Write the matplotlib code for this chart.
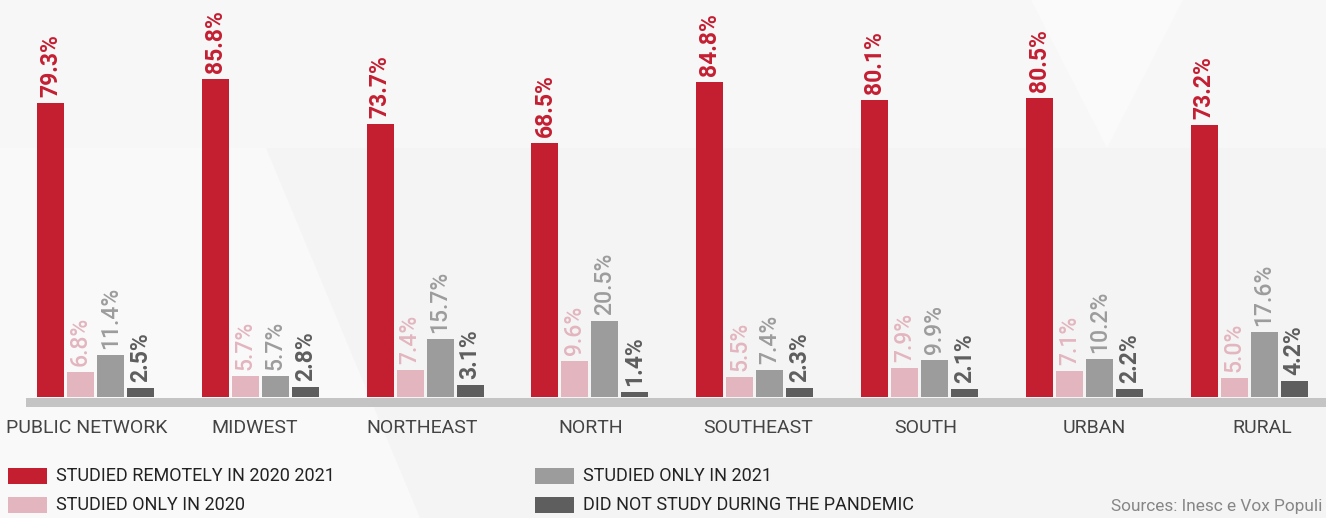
import matplotlib
matplotlib.use("Agg")
import matplotlib.pyplot as plt
from matplotlib.patches import Rectangle, Polygon
from matplotlib import font_manager
import numpy as np

categories = ["PUBLIC NETWORK", "MIDWEST", "NORTHEAST", "NORTH", "SOUTHEAST", "SOUTH", "URBAN", "RURAL"]
remote_2020_2021 = [79.3, 85.8, 73.7, 68.5, 84.8, 80.1, 80.5, 73.2]
only_2020 = [6.8, 5.7, 7.4, 9.6, 5.5, 7.9, 7.1, 5.0]
only_2021 = [11.4, 5.7, 15.7, 20.5, 7.4, 9.9, 10.2, 17.6]
not_studied = [2.5, 2.8, 3.1, 1.4, 2.3, 2.1, 2.2, 4.2]
series_labels = ["STUDIED REMOTELY IN 2020 2021", "STUDIED ONLY IN 2020",
                 "STUDIED ONLY IN 2021", "DID NOT STUDY DURING THE PANDEMIC"]
source_text = "Sources: Inesc e Vox Populi"

colors = ["#c41e31", "#e2b5bf", "#9c9c9c", "#5e5e5e"]
label_weights = ["bold", "medium", "medium", "bold"]

names = {f.name for f in font_manager.fontManager.ttflist}
FONT = ["Roboto", "DejaVu Sans"] if "Roboto" in names else ["DejaVu Sans"]

W, H = 1326, 518
fig = plt.figure(figsize=(W / 100, H / 100), dpi=100)
fig.patch.set_facecolor("#f4f4f4")
renderer = fig.canvas.get_renderer()


def fit_size(text, target_px, weight="normal", base=16.0):
    t = fig.text(0, 0, text, fontsize=base, family=FONT, fontweight=weight)
    w = t.get_window_extent(renderer=renderer).width
    t.remove()
    return base * target_px / w


def fx(px):
    return px / W


def fy(py):
    return 1 - py / H


# subtle background shapes
for pts, c in [
    ([(0, 0), (W, 0), (W, 148), (0, 148)], "#f7f7f7"),
    ([(0, 148), (266, 148), (420, 518), (0, 518)], "#f9f9f9"),
    ([(1031, 0), (1183, 0), (1107, 148)], "#fafafa"),
]:
    fig.add_artist(Polygon([(fx(x), fy(y)) for x, y in pts], closed=True,
                           facecolor=c, edgecolor="none", transform=fig.transFigure, zorder=0))

ax = fig.add_axes([0, 0, 1, 1])
ax.set_facecolor("none")
ax.axis("off")

px_per_unit_y = 3.71
base_px = 397
group_px = 164.8
center0_px = 95.5
xlim = (-center0_px / group_px, (W - center0_px) / group_px)
ax.set_xlim(*xlim)
ax.set_ylim(-(H - base_px) / px_per_unit_y, base_px / px_per_unit_y)

x = np.arange(len(categories))
pitch = 30 / group_px
width = 27 / group_px
offsets = np.array([-1.5, -0.5, 0.5, 1.5]) * pitch
series = [remote_2020_2021, only_2020, only_2021, not_studied]

val_size = fit_size("79.3%", 63, weight="bold")
gap = 6 / px_per_unit_y
for s, vals in enumerate(series):
    ax.bar(x + offsets[s], vals, width=width, color=colors[s], zorder=3)
    for xi, v in zip(x + offsets[s], vals):
        ax.text(xi, v + gap, f"{v:.1f}%", rotation=90, ha="center", va="bottom",
                color=colors[s], fontsize=val_size, fontweight=label_weights[s],
                family=FONT, zorder=4)

# baseline bar
x_left = xlim[0] + 26 / group_px
ax.add_patch(Rectangle((x_left, -(407 - base_px) / px_per_unit_y),
                       xlim[1] - x_left + 1, (407 - 398) / px_per_unit_y,
                       facecolor="#c4c4c4", edgecolor="none", zorder=2))

# category labels (on a slightly wider grid than the bars, as in the original)
cat_size = fit_size("PUBLIC NETWORK", 153) * 1.06
label_x = (86.5 - center0_px) / group_px + x * (167.9 / group_px)
for xi, c in zip(label_x, categories):
    ax.text(xi, -(428 - base_px) / px_per_unit_y, c, ha="center", va="center",
            fontsize=cat_size, color="#444444", family=FONT)

# legend
leg_size = fit_size(series_labels[0], 250) * 1.12
leg_pos = [(8, 476), (8, 505), (535, 476), (535, 505)]
for (lx, ly), c, lab in zip(leg_pos, colors, series_labels):
    fig.add_artist(Rectangle((fx(lx), fy(ly + 8)), fx(39), 16 / H, facecolor=c,
                             edgecolor="none", transform=fig.transFigure))
    fig.text(fx(lx + 48), fy(ly), lab, ha="left", va="center", fontsize=leg_size,
             color="#222222", family=FONT)

src_size = fit_size(source_text, 212)
fig.text(fx(1322), fy(506), source_text, ha="right", va="center", fontsize=src_size,
         color="#868686", family=FONT)

fig.savefig("out.png", dpi=100, facecolor=fig.get_facecolor())
